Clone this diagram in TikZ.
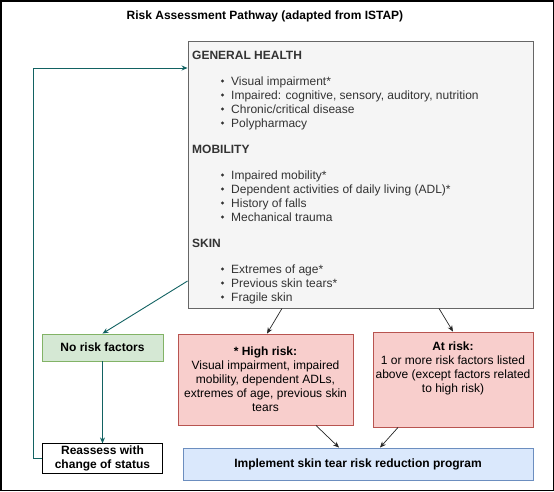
\documentclass[tikz,border=0pt]{standalone}
\usepackage{fontspec}
\setmainfont{Liberation Sans}
\usetikzlibrary{arrows.meta}
\definecolor{genfill}{HTML}{F5F5F5}
\definecolor{genline}{HTML}{666666}
\definecolor{gentext}{HTML}{333333}
\definecolor{noriskfill}{HTML}{D5E8D4}
\definecolor{noriskline}{HTML}{82B366}
\definecolor{riskfill}{HTML}{F8CECC}
\definecolor{riskline}{HTML}{B85450}
\definecolor{planfill}{HTML}{DAE8FC}
\definecolor{planline}{HTML}{6C8EBF}
\definecolor{loopline}{HTML}{126262}
\newcommand\pathfont{\fontsize{12}{14}\selectfont}
\tikzset{
	box/.style={draw, rectangle, inner sep=2pt, align=center, line width=0.9pt, font=\pathfont},
	boldbox/.style={box, font=\pathfont\bfseries},
	head/.style={anchor=west, inner sep=0pt, text height=8.6pt, text depth=0pt, text=gentext, font=\pathfont\bfseries},
	item/.style={anchor=west, inner sep=0pt, text height=8.6pt, text depth=0pt, text=gentext, font=\pathfont},
	loopflow/.style={draw=loopline, line width=0.9pt, -{Stealth[length=6pt,width=5pt]}},
	flow/.style={draw=black!85, line width=0.7pt, -{Stealth[length=6pt,width=5pt]}}
}

\begin{document}
\begin{tikzpicture}[x=1pt, y=-1pt]
		%%%%% START %%%%%
		
		\useasboundingbox (0, 0) rectangle (554, 491);
		\draw[line width=1.5pt] (0.75, 0.75) rectangle (553.25, 490.25);
		
		\node[font=\pathfont\bfseries] (title) at (265, 16) {Risk Assessment Pathway (adapted from ISTAP)};
		
		\node[box, fill=genfill, draw=genline, minimum width=345pt, minimum height=267pt] (gen) at (360.5, 174.5) {};
		
		\node[head] (health) at (192, 55) {GENERAL HEALTH};
		\node[head] (mobility) at (192, 149) {MOBILITY};
		\node[head] (skin) at (192, 243) {SKIN};
		
		\foreach \y/\txt in {81/{Visual impairment*}, 95/{Impaired: cognitive, sensory, auditory, nutrition}, 109/{Chronic/critical disease}, 123/{Polypharmacy}, 175/{Impaired mobility*}, 189/{Dependent activities of daily living (ADL)*}, 203/{History of falls}, 217/{Mechanical trauma}, 269/{Extremes of age*}, 283/{Previous skin tears*}, 297/{Fragile skin}}
		{
			\fill[gentext] (222.5, \y) circle (1.7pt);
			\node[item] at (231, \y) {\txt};
		}
		
		\node[boldbox, fill=noriskfill, draw=noriskline, minimum width=121pt, minimum height=27pt] (noRisk) at (102.5, 347.5) {No risk factors};
		\node[boldbox, fill=white, draw=black, minimum width=120pt, minimum height=29pt] (reassess) at (102.5, 458.5) {Reassess with\\change of status};
		
		\node[box, fill=riskfill, draw=riskline, minimum width=175pt, minimum height=91pt] (highRisk) at (265.5, 379.5) {\textbf{* High risk:}\\Visual impairment, impaired\\mobility, dependent ADLs,\\extremes of age, previous skin\\tears};
		\node[box, fill=riskfill, draw=riskline, minimum width=160pt, minimum height=95pt] (atRisk) at (453, 379.5) {};
		\node[align=center, inner sep=0pt, font=\pathfont] (atRiskText) at (453, 368) {\textbf{At risk:}\\1 or more risk factors listed\\above (except factors related\\to high risk)};
		
		\node[boldbox, fill=planfill, draw=planline, minimum width=350pt, minimum height=32pt] (plan) at (358, 464) {Implement skin tear risk reduction program};
		
		\draw[loopflow] (reassess.west) -- (33, 0 |- reassess.west) |- (gen.west |- 0, 68);
		\draw[loopflow] (gen.west |- 0, 281) -- (noRisk.north);
		\draw[loopflow] (noRisk.south) -- (reassess.north);
		
		\draw[flow] (282, 0 |- gen.south) -- (267, 0 |- highRisk.north);
		\draw[flow] (439, 0 |- gen.south) -- (atRisk.north);
		\draw[flow] (316, 0 |- highRisk.south) -- (339, 0 |- plan.north);
		\draw[flow] (398, 0 |- atRisk.south) -- (380, 0 |- plan.north);
		
		%%%%% END %%%%%
	\end{tikzpicture}
\end{document}
